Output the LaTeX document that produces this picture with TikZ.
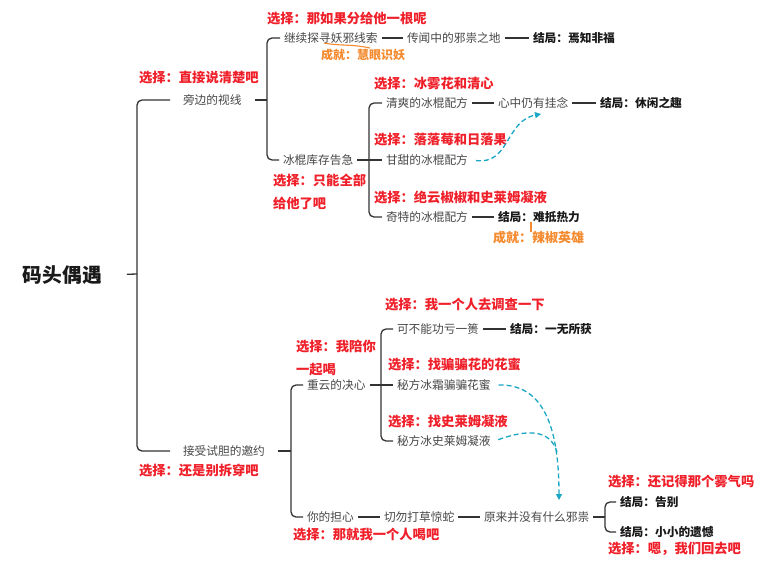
\documentclass[tikz,border=0pt]{standalone}
\usepackage{fontspec}
\setmainfont{Noto Sans CJK SC}
\usetikzlibrary{arrows.meta}
\definecolor{linec}{HTML}{333333}
\definecolor{txtgray}{HTML}{474747}
\definecolor{selred}{HTML}{F0202A}
\definecolor{achor}{HTML}{F58A2E}
\definecolor{tealc}{HTML}{1AA7C6}
\begin{document}
\begin{tikzpicture}[x=1pt,y=-1pt,
  base/.style={inner ysep=1pt, outer sep=0pt, anchor=west},
  topic/.style={base, inner xsep=4pt, text=txtgray, font=\fontsize{11.7}{14}\selectfont},
  maintopic/.style={topic, inner xsep=13pt},
  ending/.style={base, inner xsep=4pt, text=black!90, font=\bfseries\fontsize{11.7}{14}\selectfont},
  choice/.style={base, inner sep=0pt, text=selred, font=\bfseries\fontsize{13.3}{23}\selectfont, align=left},
  ach/.style={base, inner sep=0pt, text=achor, font=\bfseries\fontsize{12.5}{14}\selectfont},
  link/.style={draw=linec, line width=1.3pt, rounded corners=5pt},
  achlink/.style={draw=achor, line width=1.1pt},
  rel/.style={draw=tealc, line width=1.3pt, dash pattern=on 5pt off 3pt},
  relarrow/.style={rel, -{Triangle[length=6pt,width=6pt]}},
]
\useasboundingbox[fill=white] (0,0) rectangle (777,571);

% root
\node[base, inner sep=0pt, font=\bfseries\fontsize{19.7}{22}\selectfont, text=black!90] (root) at (23,275) {码头偶遇};
\coordinate (rs) at (137,274);

% level 1
\node[maintopic] (side) at (170,100) {旁边的视线};
\node[maintopic] (invite) at (170,451) {接受试胆的邀约};

% upper branch
\node[topic] (trace) at (280,38) {继续探寻妖邪线索};
\node[topic] (rumor) at (403,38) {传闻中的邪祟之地};
\node[ending] (e1) at (529,38) {结局：焉知非福};
\node[topic] (stock) at (279,160) {冰棍库存告急};
\node[topic] (fresh) at (382,103) {清爽的冰棍配方};
\node[topic] (heart) at (494,103) {心中仍有挂念};
\node[ending] (e2) at (596,103) {结局：休闲之趣};
\node[topic] (sweet) at (382,160) {甘甜的冰棍配方};
\node[topic] (odd) at (382,217) {奇特的冰棍配方};
\node[ending] (e3) at (494,217) {结局：难抵热力};

% lower branch
\node[topic] (resolve) at (303,385) {重云的决心};
\node[topic] (nolose) at (393,329) {可不能功亏一篑};
\node[ending] (e4) at (506,329) {结局：一无所获};
\node[topic] (honey) at (393,385) {秘方冰霜骗骗花蜜};
\node[topic] (slime) at (393,441) {秘方冰史莱姆凝液};
\node[topic] (worry) at (303,517) {你的担心};
\node[topic] (snake) at (380,517) {切勿打草惊蛇};
\node[topic] (nothing) at (480,517) {原来并没有什么邪祟};
\node[ending] (bye) at (616,502) {结局：告别};
\node[ending] (regret) at (616,532) {结局：小小的遗憾};

% choices
\node[choice] (c1) at (267,19) {选择：那如果分给他一根呢};
\node[choice] (c2) at (139,78) {选择：直接说清楚吧};
\node[choice] (c3) at (374,84) {选择：冰雾花和清心};
\node[choice] (c4) at (374,140) {选择：落落莓和日落果};
\node[choice] (c5) at (273,191.5) {选择：只能全部\\给他了吧};
\node[choice] (c6) at (374,197) {选择：绝云椒椒和史莱姆凝液};
\node[choice] (c7) at (385,305) {选择：我一个人去调查一下};
\node[choice] (c8) at (296,358) {选择：我陪你\\一起喝};
\node[choice] (c9) at (388,364) {选择：找骗骗花的花蜜};
\node[choice] (c10) at (388,422) {选择：找史莱姆凝液};
\node[choice] (c11) at (139,470) {选择：还是别拆穿吧};
\node[choice] (c12) at (293,535) {选择：那就我一个人喝吧};
\node[choice] (c13) at (608,482) {选择：还记得那个雾气吗};
\node[choice] (c14) at (608,549) {选择：嗯，我们回去吧};

% achievements
\node[ach, font=\bfseries\fontsize{12}{14}\selectfont] (a1) at (321,55) {成就：慧眼识妖};
\node[ach, font=\bfseries\fontsize{13}{14}\selectfont] (a2) at (493,238) {成就：辣椒英雄};

% tree connectors
\draw[link, shorten <=25pt] (root.east) -- (rs);
\draw[link] (side.west) -| (rs) |- (invite.west);

\coordinate (s1) at (267,100);
\draw[link] (side.east) -- (s1);
\draw[link] (trace.west) -| (s1) |- (stock.west);
\draw[link] (trace.east) -- (rumor.west);
\draw[link] (rumor.east) -- (e1.west);

\coordinate (s2) at (369,160);
\draw[link] (stock.east) -- (sweet.west);
\draw[link] (fresh.west) -| (s2) |- (odd.west);
\draw[link] (fresh.east) -- (heart.west);
\draw[link] (heart.east) -- (e2.west);
\draw[link] (odd.east) -- (e3.west);

\coordinate (s3) at (291,451);
\draw[link] (invite.east) -- (s3);
\draw[link] (resolve.west) -| (s3) |- (worry.west);

\coordinate (s4) at (381,385);
\draw[link] (resolve.east) -- (honey.west);
\draw[link] (nolose.west) -| (s4) |- (slime.west);
\draw[link] (nolose.east) -- (e4.west);

\draw[link] (worry.east) -- (snake.west);
\draw[link] (snake.east) -- (nothing.west);
\coordinate (s5) at (605,517);
\draw[link] (nothing.east) -- (s5);
\draw[link] (bye.west) -| (s5) |- (regret.west);

% achievement callouts
\coordinate (u1) at (324,43);
\coordinate (u2) at (370,48);
\draw[achlink] (u1) .. controls (338,46) and (352,44) .. (u2);
\coordinate (t1) at (531,222);
\coordinate (t2) at (531,232);
\draw[achor, line width=1.8pt] (t1) -- (t2);

% relationship arrows
\coordinate (tipA) at (541,114);
\draw[relarrow, shorten <=4pt] (sweet.east) .. controls (510,165) and (505,121) .. (tipA);
\coordinate (tipB) at (559,500);
\draw[relarrow, shorten <=4pt] (honey.east) .. controls (545,384) and (559,430) .. (tipB);
\coordinate (joinB) at (557,452);
\draw[rel, shorten <=4pt] (slime.east) .. controls (525,430) and (550,428) .. (joinB);
\end{tikzpicture}
\end{document}
